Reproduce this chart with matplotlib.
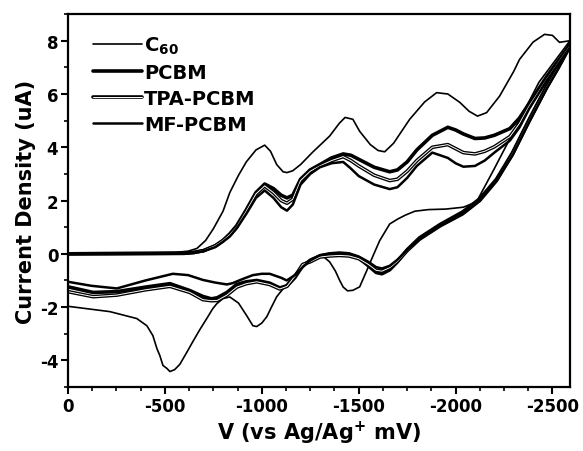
import matplotlib
matplotlib.use("Agg")
import matplotlib.pyplot as plt
import matplotlib.patheffects as pe
from matplotlib.ticker import MultipleLocator

plt.rcParams['font.family'] = ['DejaVu Sans']
plt.rcParams['font.weight'] = 'bold'
plt.rcParams['mathtext.default'] = 'bf'
plt.rcParams['axes.unicode_minus'] = False

# C60: forward (reduction) sweep, then the return sweep
c60_fwd_x = [0, -300, -550, -620, -665, -710, -750, -800, -835, -880, -920, -970, -1015, -1045,
             -1077, -1110, -1130, -1160, -1200, -1263, -1350, -1400, -1430, -1470, -1505, -1560,
             -1600, -1634, -1680, -1763, -1840, -1902, -1960, -2021, -2070, -2113, -2160, -2227,
             -2300, -2330, -2400, -2459, -2500, -2536, -2590]
c60_fwd_y = [0, 0.02, 0.05, 0.1, 0.2, 0.5, 0.94, 1.6, 2.3, 2.95, 3.45, 3.9, 4.08, 3.85,
             3.35, 3.08, 3.05, 3.12, 3.35, 3.82, 4.42, 4.9, 5.12, 5.05, 4.6, 4.1,
             3.88, 3.83, 4.15, 5.05, 5.7, 6.05, 6.0, 5.69, 5.35, 5.17, 5.3, 5.92,
             6.85, 7.3, 7.95, 8.24, 8.2, 7.94, 8.0]
c60_rev_x = [-2590, -2430, -2300, -2200, -2108, -2040, -1950, -1860, -1790, -1740, -1700, -1660,
             -1608, -1572, -1541, -1505, -1470, -1443, -1420, -1402, -1380, -1350, -1320, -1290,
             -1250, -1211, -1170, -1118, -1077, -1050, -1026, -1000, -974, -954, -922, -880,
             -835, -800, -768, -747, -716, -680, -644, -613, -577, -550, -526, -510, -490, -474,
             -459, -438, -407, -355, -216, 0]
c60_rev_y = [8.0, 6.44, 4.6, 3.2, 1.95, 1.75, 1.68, 1.66, 1.6, 1.45, 1.3, 1.12,
             0.49, -0.11, -0.64, -1.24, -1.37, -1.39, -1.25, -1.0, -0.65, -0.3, -0.12, -0.08,
             -0.2, -0.45, -0.8, -1.24, -1.61, -2.0, -2.36, -2.6, -2.73, -2.7, -2.32, -1.85,
             -1.62, -1.68, -1.87, -2.06, -2.43, -2.85, -3.3, -3.7, -4.15, -4.35, -4.42, -4.3, -4.19, -3.82,
             -3.56, -3.07, -2.7, -2.43, -2.17, -1.97]

# derivatives share the x grid of the forward sweep
pcbm_fwd_x = [0, -300, -600, -650, -700, -760, -800, -835, -870, -920, -970, -1015, -1060,
              -1100, -1130, -1160, -1200, -1250, -1300, -1360, -1420, -1460, -1500, -1580,
              -1660, -1700, -1750, -1800, -1880, -1960, -2000, -2040, -2100, -2150, -2200,
              -2280, -2330, -2380, -2470, -2590]
pcbm_fwd_y = [0, 0.01, 0.02, 0.05, 0.12, 0.3, 0.5, 0.75, 1.05, 1.65, 2.3, 2.62, 2.45,
              2.2, 2.1, 2.2, 2.8, 3.15, 3.35, 3.6, 3.75, 3.7, 3.55, 3.25,
              3.08, 3.15, 3.45, 3.9, 4.45, 4.75, 4.65, 4.5, 4.33, 4.35, 4.45,
              4.7, 5.1, 5.65, 6.65, 7.85]
tpa_fwd_y = [0, 0.01, 0.02, 0.05, 0.12, 0.3, 0.5, 0.72, 1.0, 1.6, 2.25, 2.55, 2.3,
             2.0, 1.9, 2.05, 2.75, 3.1, 3.3, 3.5, 3.65, 3.5, 3.3, 2.95,
             2.75, 2.8, 3.1, 3.5, 4.0, 4.1, 3.95, 3.8, 3.75, 3.85, 4.02,
             4.4, 4.9, 5.55, 6.55, 7.8]
mf_fwd_y = [0, 0.01, 0.02, 0.05, 0.1, 0.25, 0.45, 0.65, 0.95, 1.5, 2.1, 2.38, 2.1,
            1.75, 1.62, 1.85, 2.6, 3.0, 3.25, 3.4, 3.45, 3.2, 2.92, 2.6,
            2.43, 2.5, 2.85, 3.3, 3.8, 3.6, 3.4, 3.27, 3.3, 3.5, 3.8,
            4.25, 4.75, 5.45, 6.5, 7.75]

pcbm_rev_x = [-2590, -2530, -2470, -2380, -2294, -2211, -2124, -2036, -1920, -1814, -1750,
              -1700, -1660, -1620, -1590, -1550, -1500, -1450, -1400, -1350, -1300, -1250,
              -1211, -1170, -1130, -1093, -1040, -974, -920, -871, -820, -770, -740, -696,
              -629, -526, -400, -252, -130, 0]
pcbm_rev_y = [7.85, 7.05, 6.3, 5.05, 3.8, 2.8, 2.06, 1.57, 1.1, 0.6, 0.15,
              -0.3, -0.6, -0.75, -0.7, -0.45, -0.15, -0.02, 0.0, -0.02, -0.08, -0.25,
              -0.45, -0.9, -1.2, -1.28, -1.1, -1.0, -1.05, -1.15, -1.45, -1.65, -1.69, -1.6,
              -1.38, -1.12, -1.25, -1.42, -1.45, -1.24]
tpa_rev_y = [7.8, 7.0, 6.25, 5.0, 3.75, 2.75, 2.0, 1.5, 1.05, 0.55, 0.12,
             -0.28, -0.52, -0.65, -0.62, -0.4, -0.18, -0.08, -0.06, -0.08, -0.12, -0.3,
             -0.4, -0.85, -1.22, -1.32, -1.15, -1.05, -1.12, -1.25, -1.55, -1.75, -1.76, -1.72,
             -1.45, -1.22, -1.35, -1.55, -1.61, -1.42]

mf_rev_x = [-2590, -2530, -2470, -2380, -2294, -2211, -2124, -2036, -1920, -1814, -1750,
            -1700, -1660, -1620, -1590, -1550, -1500, -1450, -1400, -1350, -1300, -1250,
            -1211, -1170, -1129, -1100, -1041, -1000, -954, -900, -850, -820, -760, -696,
            -620, -541, -400, -252, -120, 0]
mf_rev_y = [7.75, 6.95, 6.2, 4.95, 3.7, 2.75, 2.0, 1.5, 1.05, 0.55, 0.15,
            -0.22, -0.45, -0.55, -0.5, -0.3, -0.1, 0.02, 0.05, 0.02, -0.05, -0.25,
            -0.5, -0.8, -1.0, -0.9, -0.75, -0.75, -0.8, -0.95, -1.1, -1.15, -1.08, -0.98,
            -0.8, -0.75, -1.0, -1.3, -1.2, -1.05]

labels = ['C$_{60}$', 'PCBM', 'TPA-PCBM', 'MF-PCBM']

fig = plt.figure(figsize=(5.83, 4.52), dpi=100)
ax = fig.add_axes([0.1166, 0.1416, 0.861, 0.825])

kw = dict(solid_joinstyle='round', solid_capstyle='round')
ax.plot(c60_fwd_x + c60_rev_x, c60_fwd_y + c60_rev_y, color='black', lw=1.2, label=labels[0], **kw)
ax.plot(pcbm_fwd_x + pcbm_rev_x, pcbm_fwd_y + pcbm_rev_y, color='black', lw=2.6, label=labels[1], **kw)
ax.plot(pcbm_fwd_x + pcbm_rev_x, tpa_fwd_y + tpa_rev_y, color='white', lw=0.7, label=labels[2],
        path_effects=[pe.Stroke(linewidth=2.6, foreground='black'), pe.Normal()], **kw)
ax.plot(pcbm_fwd_x + mf_rev_x, mf_fwd_y + mf_rev_y, color='black', lw=1.8, label=labels[3], **kw)

ax.set_xlim(0, -2590)
ax.set_ylim(-5, 9)
ax.xaxis.set_major_locator(MultipleLocator(500))
ax.xaxis.set_minor_locator(MultipleLocator(125))
ax.yaxis.set_major_locator(MultipleLocator(2))
ax.yaxis.set_minor_locator(MultipleLocator(1))
ax.tick_params(which='major', direction='out', length=5, width=1.5, labelsize=12, pad=2)
ax.tick_params(which='minor', direction='out', length=3, width=1.2)
for sp in ax.spines.values():
    sp.set_linewidth(1.6)

ax.set_xlabel('V (vs Ag/Ag$^{+}$ mV)', fontsize=15, fontweight='bold', labelpad=3)
ax.set_ylabel('Current Density (uA)', fontsize=15, fontweight='bold', labelpad=3)

leg = ax.legend(loc='upper left', frameon=False, fontsize=14, handlelength=2.5,
                handletextpad=0.1, labelspacing=0.35, borderaxespad=0.0,
                bbox_to_anchor=(0.035, 0.965))

fig.savefig('out.png', dpi=100)
